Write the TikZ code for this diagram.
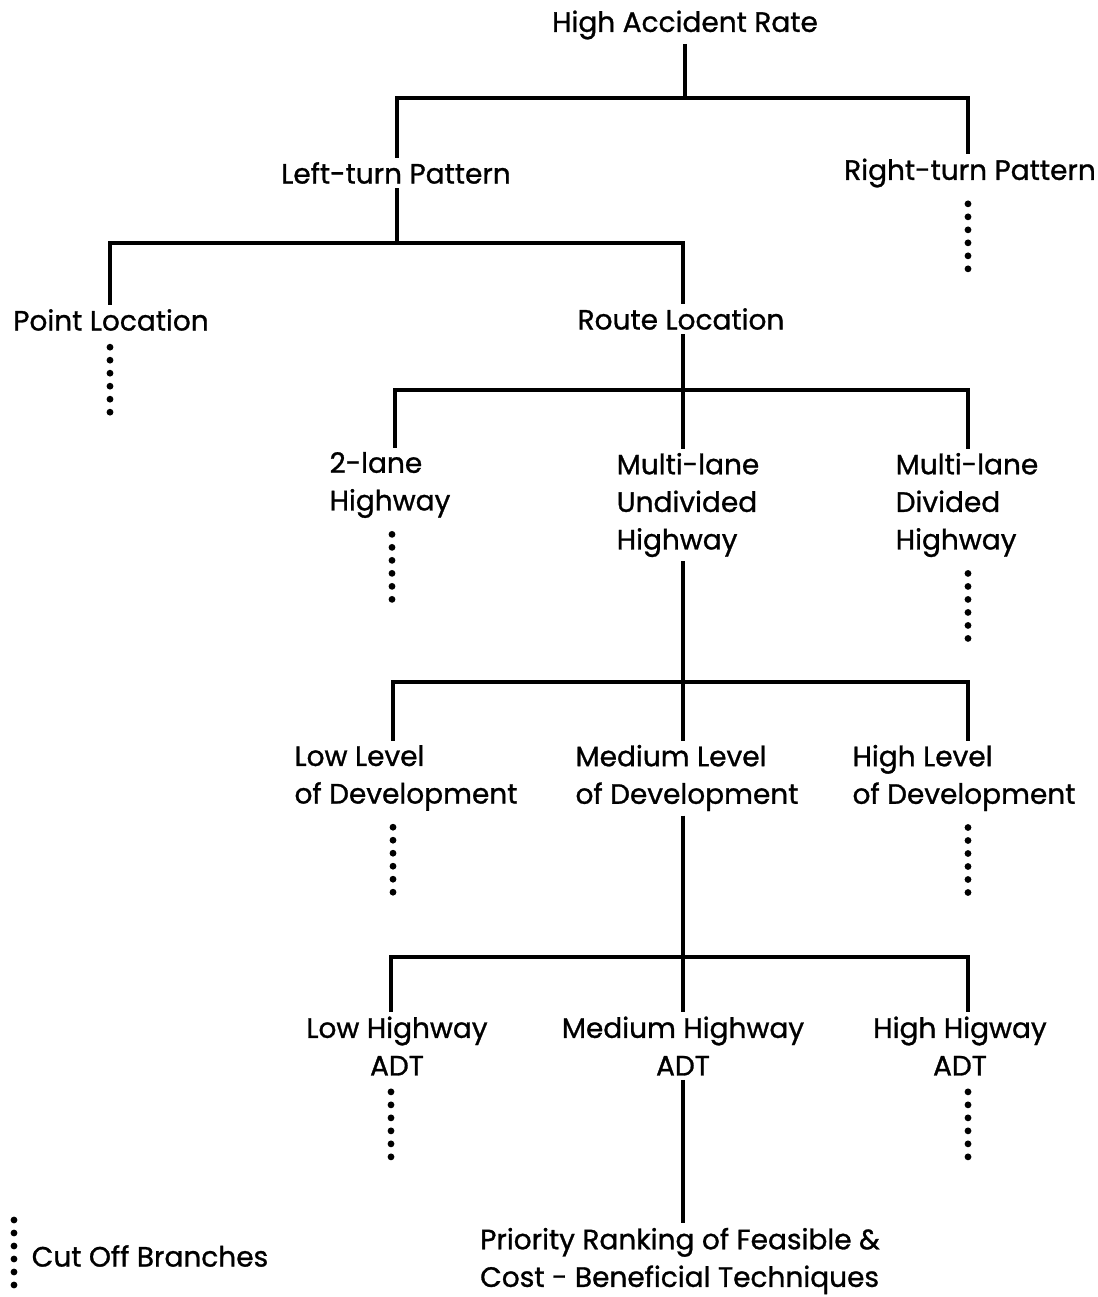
\documentclass[tikz,border=0pt]{standalone}
\usepackage{fontspec}
\setmainfont{Poppins}[FakeBold=1]
\usepackage{tikz}
\usetikzlibrary{positioning}

\tikzset{
  lbl/.style={inner sep=2pt, align=left, font=\fontsize{14}{18.8}\selectfont},
  lblc/.style={lbl, align=center},
  link/.style={line width=1.6pt},
  cutoff/.style={line width=3.4pt, line cap=round, dash pattern=on 0pt off 6.5pt}
}

\begin{document}
\begin{tikzpicture}[x=0.5pt,y=-0.5pt]
  \useasboundingbox (0,0) rectangle (1098,1297);

  % levels of the tree
  \node[lbl] (root) at (685,25)  {High Accident Rate};
  \node[lbl] (lt)   at (396,173) {Left-turn Pattern};
  \node[lbl] (rt)   at (970,173) {Right-turn Pattern};
  \node[lbl] (pt)   at (111,320) {Point Location};
  \node[lbl] (rl)   at (681,319) {Route Location};
  \node[lbl] (tl)   at (390,485) {2-lane\\Highway};
  \node[lbl] (mu)   at (688,505) {Multi-lane\\Undivided\\Highway};
  \node[lbl] (md)   at (967,505) {Multi-lane\\Divided\\Highway};
  \node[lbl] (ll)   at (406,778) {Low Level\\of Development};
  \node[lbl] (ml)   at (687,778) {Medium Level\\of Development};
  \node[lbl] (hl)   at (964,778) {High Level\\of Development};
  \node[lblc] (la)  at (397,1046) {Low Highway\\ADT};
  \node[lblc] (ma)  at (683,1046) {Medium Highway\\ADT};
  \node[lblc] (ha)  at (960,1046) {High Higway\\ADT};
  \node[lbl] (pr)   at (680,1261) {Priority Ranking of Feasible \&\\Cost - Beneficial Techniques};

  % bars
  \coordinate (b0) at (685,98);
  \coordinate (b1) at (397,243);
  \coordinate (b2) at (683,390);
  \coordinate (b3) at (683,682);
  \coordinate (b4) at (683,957);

  \draw[link] (root.south) -- (b0);
  \draw[link] (lt.north -| 397,0) |- (b0) -| (rt.north -| 968,0);

  \draw[link] (lt.south -| b1) -- (b1);
  \draw[link] (pt.north -| 110,0) |- (b1) -| (rl.north -| 683,0);

  \draw[link] (rl.south -| b2) -- (b2);
  \draw[link] (tl.north -| 395,0) |- (b2) -| (md.north -| 968,0);
  \draw[link] (b2) -- (mu.north -| b2);

  \draw[link] (mu.south -| b3) -- (b3);
  \draw[link] (ll.north -| 393,0) |- (b3) -| (hl.north -| 968,0);
  \draw[link] (b3) -- (ml.north -| b3);

  \draw[link] (ml.south -| b4) -- (b4);
  \draw[link] (la.north -| 391,0) |- (b4) -| (ha.north -| 968,0);
  \draw[link] (b4) -- (ma.north -| b4);

  \draw[link] (ma.south -| 683,0) -- (pr.north -| 683,0);

  % cut off branches
  \draw[cutoff] (rt.south -| 968,0) ++(0,12) -- ++(0,66);
  \draw[cutoff] (pt.south -| 110,0) ++(0,12) -- ++(0,66);
  \draw[cutoff] (tl.south -| 392,0) ++(0,12) -- ++(0,66);
  \draw[cutoff] (md.south -| 968,0) ++(0,12) -- ++(0,66);
  \draw[cutoff] (ll.south -| 393,0) ++(0,12) -- ++(0,66);
  \draw[cutoff] (hl.south -| 968,0) ++(0,12) -- ++(0,66);
  \draw[cutoff] (la.south -| 391,0) ++(0,12) -- ++(0,66);
  \draw[cutoff] (ha.south -| 968,0) ++(0,12) -- ++(0,66);

  % legend
  \node[lbl] (key) at (150,1256) {Cut Off Branches};
  \draw[cutoff] (key.west -| 14,0) ++(0,-36) -- ++(0,66);
\end{tikzpicture}
\end{document}
